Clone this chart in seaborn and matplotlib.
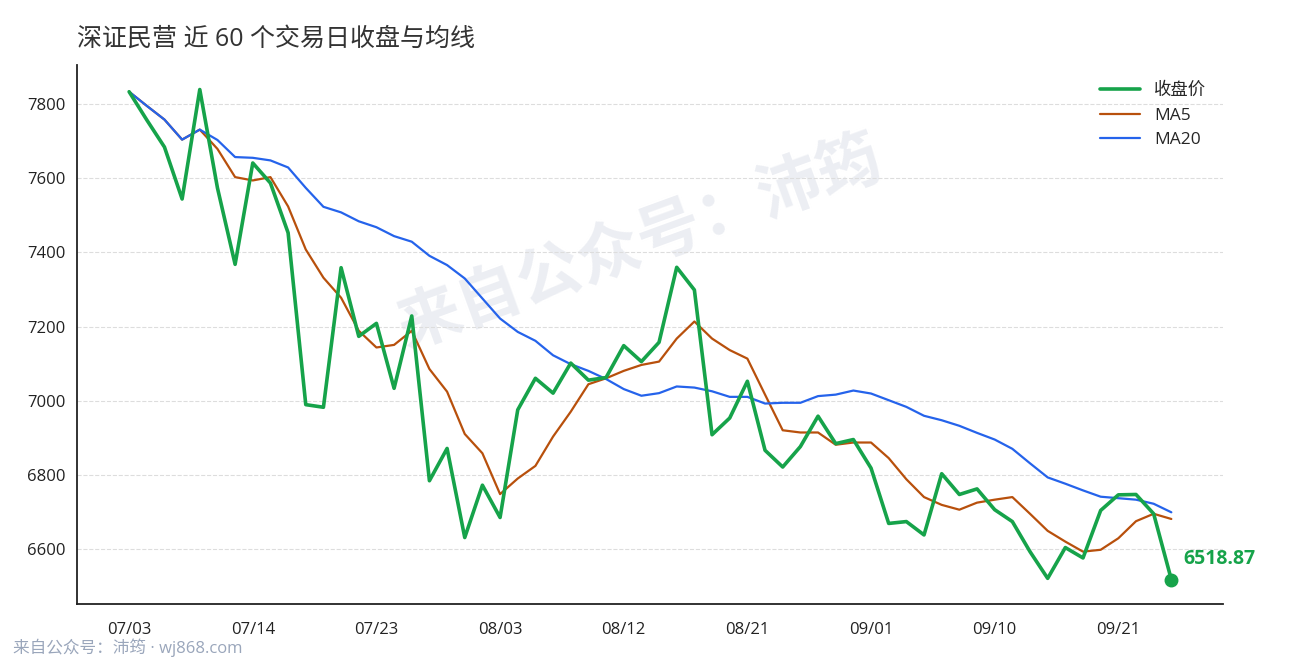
import matplotlib
matplotlib.use("Agg")
import matplotlib.pyplot as plt
import seaborn as sns

# 60 trading days
dates = ["07/03", "07/04", "07/07", "07/08", "07/09", "07/10", "07/11",
         "07/14", "07/15", "07/16", "07/17", "07/18", "07/21", "07/22",
         "07/23", "07/24", "07/25", "07/28", "07/29", "07/30", "07/31",
         "08/03", "08/04", "08/05", "08/06", "08/07", "08/08", "08/11",
         "08/12", "08/13", "08/14", "08/15", "08/18", "08/19", "08/20",
         "08/21", "08/22", "08/25", "08/26", "08/27", "08/28", "08/29",
         "09/01", "09/02", "09/03", "09/04", "09/05", "09/08", "09/09",
         "09/10", "09/11", "09/12", "09/15", "09/16", "09/17", "09/18",
         "09/21", "09/22", "09/23", "09/24"]

close = [7833, 7757, 7684, 7544, 7839, 7574, 7368, 7641, 7587, 7453,
         6990, 6983, 7359, 7174, 7209, 7034, 7229, 6785, 6872, 6632,
         6773, 6686, 6976, 7061, 7021, 7102, 7056, 7063, 7149, 7106,
         7158, 7360, 7299, 6909, 6954, 7053, 6867, 6822, 6877, 6959,
         6885, 6896, 6819, 6670, 6675, 6639, 6804, 6748, 6763, 6707,
         6675, 6594, 6522, 6605, 6577, 6705, 6747, 6748, 6696, 6518.87]

ma5 = [7833, 7795, 7758, 7704, 7731, 7679, 7603, 7594, 7603, 7524,
       7408, 7332, 7278, 7189, 7144, 7151, 7189, 7086, 7025, 6911,
       6859, 6749, 6791, 6825, 6904, 6971, 7045, 7061, 7081, 7097,
       7106, 7168, 7214, 7168, 7137, 7114, 7017, 6921, 6915, 6915,
       6882, 6888, 6888, 6846, 6789, 6741, 6720, 6707, 6726, 6734,
       6741, 6696, 6650, 6621, 6594, 6599, 6630, 6676, 6696, 6682]

ma20 = [7833, 7795, 7758, 7704, 7731, 7703, 7657, 7655, 7648, 7629,
        7574, 7523, 7508, 7484, 7468, 7444, 7429, 7391, 7366, 7330,
        7276, 7222, 7186, 7162, 7123, 7099, 7081, 7059, 7032, 7014,
        7021, 7039, 7036, 7026, 7011, 7011, 6993, 6995, 6995, 7013,
        7017, 7028, 7020, 7002, 6984, 6960, 6948, 6933, 6914, 6896,
        6871, 6832, 6794, 6777, 6759, 6742, 6738, 6734, 6723, 6700]

sns.set_style("white")
plt.rcParams["font.family"] = ["Open Sans", "Noto Sans CJK SC", "DejaVu Sans"]

idx = list(range(len(dates)))

fig = plt.figure(figsize=(12.9, 6.6), dpi=100)
ax = fig.add_axes([0.0597, 0.0848, 0.8887, 0.8167])

sns.lineplot(x=idx, y=close, ax=ax, color="#16a34a", linewidth=2.6, label="收盘价", zorder=4)
sns.lineplot(x=idx, y=ma5, ax=ax, color="#b8500c", linewidth=1.6, label="MA5", zorder=3)
sns.lineplot(x=idx, y=ma20, ax=ax, color="#2563eb", linewidth=1.6, label="MA20", zorder=3)

# last point
ax.plot(idx[-1], close[-1], "o", color="#16a34a", markersize=9, zorder=5)
ax.annotate(f"{close[-1]:.2f}", (idx[-1], close[-1]), xytext=(9, 15),
            textcoords="offset points", ha="left", va="center",
            fontsize=14, fontweight="bold", color="#16a34a")

# watermark
ax.text(0.492, 0.666, "来自公众号：沛筠", transform=ax.transAxes, rotation=20,
        ha="center", va="center", fontsize=46, fontweight="bold",
        color="#eceef3", zorder=0)

ax.set_xticks(idx[::7])
ax.set_xticklabels(dates[::7])
ax.set_yticks([6600, 6800, 7000, 7200, 7400, 7600, 7800])
ax.grid(axis="y", linestyle="--", color="#dddddd", linewidth=0.8)
ax.set_axisbelow(True)

for s in ["top", "right"]:
    ax.spines[s].set_visible(False)
for s in ["left", "bottom"]:
    ax.spines[s].set_color("#222222")
    ax.spines[s].set_linewidth(1.3)
ax.tick_params(axis="both", labelsize=12, colors="#222222", length=5, width=1.3, direction="out")
ax.tick_params(axis="x", pad=8)

ax.set_title("深证民营 近 60 个交易日收盘与均线", loc="left", fontsize=18,
             color="#333333", pad=14)

ax.legend(loc="upper right", frameon=False, fontsize=12.5, handlelength=2.3,
          labelspacing=0.5, borderaxespad=0.6)

fig.text(0.0101, 0.018, "来自公众号：沛筠 · wj868.com", fontsize=12,
         color="#9aa6bb", ha="left", va="center")

fig.savefig("out.png", dpi=100)
